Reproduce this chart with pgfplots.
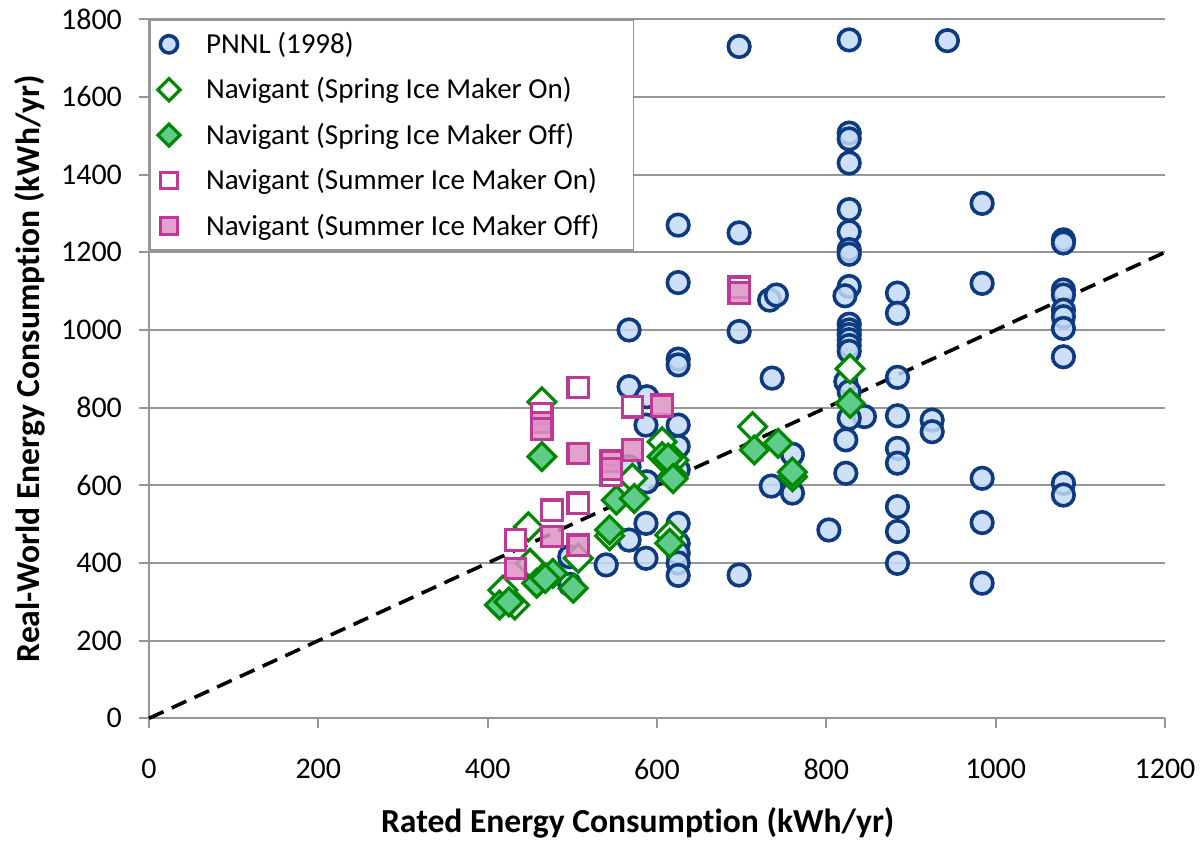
\documentclass[border=0pt]{standalone}
\usepackage{fontspec}
\setmainfont{Carlito}[Ligatures=NoCommon]
\usepackage{pgfplots}
\pgfplotsset{compat=1.18}

\definecolor{pnnlEdge}{RGB}{14,58,128}
\definecolor{pnnlFill}{RGB}{196,218,246}
\definecolor{grnEdge}{RGB}{0,136,0}
\definecolor{grnFill}{RGB}{96,204,140}
\definecolor{pnkEdge}{RGB}{190,56,150}
\definecolor{pnkFill}{RGB}{222,146,198}
\definecolor{gridgray}{RGB}{150,150,150}

\begin{document}
\begin{tikzpicture}
\useasboundingbox (-74.5pt,-61.85pt) rectangle (527.5pt,359.15pt);
\begin{axis}[
  at={(0,0)}, anchor=south west,
  scale only axis,
  width=508pt, height=349.5pt,
  xmin=0, xmax=1200, ymin=0, ymax=1800,
  xtick={0,200,...,1200},
  ytick={0,200,...,1800},
  axis x line*=bottom, axis y line*=left,
  axis line style={gridgray, line width=0.9pt, -},
  ymajorgrids,
  grid style={gridgray, line width=0.9pt},
  tick align=outside,
  major tick length=5pt,
  tick style={gridgray, line width=0.9pt},
  /pgf/number format/assume math mode=true,
  /pgf/number format/1000 sep={},
  tick label style={font=\fontsize{15}{17}\selectfont},
  yticklabel style={xshift=-5pt},
  xticklabel style={yshift=-12pt},
  xlabel={Rated Energy Consumption (kWh/yr)},
  ylabel={Real-World Energy Consumption (kWh/yr)},
  label style={font=\fontsize{16.8}{19}\selectfont\bfseries},
  xlabel style={at={(axis description cs:0.481,-0.150)}, anchor=center},
  ylabel style={at={(axis description cs:-0.117,0.5)}, anchor=center},
  clip=false,
  legend style={
    at={(0,1)}, anchor=north west,
    draw=gridgray, line width=0.9pt,
    font=\fontsize{14.5}{17}\selectfont,
    row sep=6.6pt, column sep=11pt, inner sep=4pt,
  },
  legend cell align=left,
  legend image code/.code={
    \draw[mark repeat=2, mark phase=2] plot coordinates {(0cm,0cm) (0.15cm,0cm) (0.3cm,0cm)};
  },
  legend image post style={/tikz/every mark/.append style={scale=0.8}},
]
% PNNL (1998)
\addplot[only marks, mark=*, mark size=5.4pt,
  mark options={draw=pnnlEdge, fill=pnnlFill, fill opacity=0.85, line width=1.8pt}]
  coordinates {
  (567,854)(588,828)(587,755)(588,609)(567,459)(587,502)(587,412)(497,416)(540,395)(567,648)(497,345)
  (625,1270)(697,1250)(625,1122)(733,1077)(741,1090)(567,1000)(697,996)(625,925)(625,910)(736,876)
  (625,755)(625,700)(625,640)(625,502)(625,450)(625,425)(625,400)(625,368)(697,369)(760,680)(735,598)
  (760,580)(803,485)
  (827,1747)(943,1745)(697,1730)(827,1507)(827,1492)(827,1430)(827,1310)(827,1253)(827,1207)(827,1195)
  (984,1326)(984,1120)(827,1112)(822,1088)(884,1095)(884,1043)
  (827,1015)(827,1000)(827,988)(827,975)(827,960)(827,945)(823,867)(827,841)(845,777)(827,773)
  (823,717)(823,631)(884,878)(884,779)(884,695)(884,657)(884,545)(884,481)(884,399)(925,768)(925,738)
  (984,618)(984,504)(984,348)
  (1080,1232)(1080,1224)(1080,1103)(1080,1090)(1080,1051)(1080,1034)(1080,1004)(1080,931)(1080,605)(1080,575)
  };
\addlegendentry{PNNL (1998)}
% Navigant spring, ice maker on
\addplot[only marks, mark=square*, mark size=4.9pt,
  mark options={rotate=45, draw=grnEdge, fill=white, line width=1.6pt}]
  coordinates {
  (464,815)(448,493)(507,412)(418,330)(432,292)(450,399)(544,470)(571,618)(606,712)(620,665)
  (619,625)(615,472)(713,751)(760,622)(828,900)
  };
\addlegendentry{Navigant (Spring Ice Maker On)}
% Navigant spring, ice maker off
\addplot[only marks, mark=square*, mark size=4.9pt,
  mark options={rotate=45, draw=grnEdge, fill=grnFill, line width=1.6pt}]
  coordinates {
  (464,674)(414,292)(425,300)(458,348)(477,373)(468,360)(501,335)(544,485)(552,562)(573,566)
  (606,674)(613,670)(619,617)(615,451)(715,691)(743,708)(760,634)(828,811)
  };
\addlegendentry{Navigant (Spring Ice Maker Off)}
% Navigant summer, ice maker on
\addplot[only marks, mark=square*, mark size=5.1pt,
  mark options={draw=pnkEdge, fill=white, line width=1.6pt}]
  coordinates {
  (464,785)(507,852)(571,802)(546,625)(476,536)(507,554)(433,459)(697,1110)(606,808)
  };
\addlegendentry{Navigant (Summer Ice Maker On)}
% Navigant summer, ice maker off
\addplot[only marks, mark=square*, mark size=5.1pt,
  mark options={draw=pnkEdge, fill=pnkFill, fill opacity=0.85, line width=1.6pt}]
  coordinates {
  (464,762)(464,745)(507,682)(571,691)(546,662)(546,642)(476,468)(507,446)(433,386)(697,1095)(606,804)
  };
\addlegendentry{Navigant (Summer Ice Maker Off)\hspace*{11pt}}
% 1:1 reference line
\addplot[black, line width=1.8pt, dash pattern=on 8pt off 4.5pt, forget plot]
  coordinates {(0,0)(1200,1200)};
\end{axis}
\end{tikzpicture}
\end{document}
